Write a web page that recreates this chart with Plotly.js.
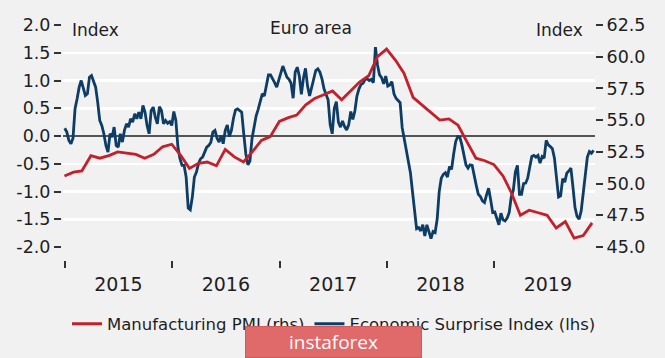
<!DOCTYPE html>
<html>
<head>
<meta charset="utf-8">
<script src="https://cdn.plot.ly/plotly-3.0.1.min.js"></script>
<style>
html,body{margin:0;padding:0;background:#f1f1f1;}
#chart{width:665px;height:358px;}
</style>
</head>
<body>
<div id="chart"></div>
<script>
// ---- Data ----
// Manufacturing PMI (rhs), monthly, plotted at month end
const pmiMonths = [
 '2014-12-31','2015-01-31','2015-02-28','2015-03-31','2015-04-30','2015-05-31','2015-06-30','2015-07-31','2015-08-31','2015-09-30','2015-10-31','2015-11-30','2015-12-31',
 '2016-01-31','2016-02-29','2016-03-31','2016-04-30','2016-05-31','2016-06-30','2016-07-31','2016-08-31','2016-09-30','2016-10-31','2016-11-30','2016-12-31',
 '2017-01-31','2017-02-28','2017-03-31','2017-04-30','2017-05-31','2017-06-30','2017-07-31','2017-08-31','2017-09-30','2017-10-31','2017-11-30','2017-12-31',
 '2018-01-31','2018-02-28','2018-03-31','2018-04-30','2018-05-31','2018-06-30','2018-07-31','2018-08-31','2018-09-30','2018-10-31','2018-11-30','2018-12-31',
 '2019-01-31','2019-02-28','2019-03-31','2019-04-30','2019-05-31','2019-06-30','2019-07-31','2019-08-31','2019-09-30','2019-10-31','2019-11-30'
];
const pmiValues = [
 50.6,50.9,51.0,52.2,52.0,52.2,52.5,52.4,52.3,52.0,52.3,52.9,53.1,
 52.2,51.2,51.6,51.7,51.4,52.7,52.1,51.7,52.5,53.4,53.7,54.9,
 55.2,55.4,56.2,56.7,57.0,57.3,56.6,57.3,58.0,58.5,60.0,60.6,
 59.7,58.7,56.8,56.2,55.6,55.0,55.1,54.6,53.3,52.0,51.8,51.5,
 50.6,49.3,47.5,47.9,47.7,47.5,46.5,47.0,45.7,45.9,46.9
];

// Economic Surprise Index (lhs), weekly readings starting 2015-01-01
const esiStart = '2015-01-01';
const esiValues = [
 0.14,0.07,-0.08,-0.14,-0.04,0.49,0.67,0.88,1.0,0.88,
 0.73,0.76,1.06,1.09,1.0,0.88,0.61,0.28,0.19,0.04,
 -0.17,-0.29,0.04,-0.02,0.16,-0.17,-0.2,0.04,-0.11,0.1,
 0.22,0.16,0.31,0.25,0.4,0.31,0.43,0.31,0.55,0.43,
 0.19,0.04,0.46,0.52,0.34,0.22,0.53,0.46,0.22,0.28,
 0.23,0.26,0.19,0.44,0.28,-0.2,-0.41,-0.53,-0.53,-0.74,
 -1.3,-1.33,-1.1,-0.74,-0.65,-0.5,-0.41,-0.38,-0.29,-0.2,
 -0.17,-0.11,0.07,0.1,-0.04,-0.11,0.01,-0.14,0.1,0.2,
 -0.01,0.1,0.32,0.47,0.49,0.46,0.43,0.04,-0.32,-0.52,
 -0.45,-0.05,0.2,0.36,0.48,0.65,0.76,0.72,0.95,1.1,
 1.1,1.04,0.96,0.88,1.02,1.15,1.26,1.16,1.06,1.02,
 0.95,0.68,1.15,1.24,1.08,0.75,1.04,1.22,0.9,0.72,
 0.88,1.05,1.18,1.21,1.15,1.03,0.85,0.75,0.65,0.2,
 0.04,0.5,0.62,0.25,0.16,0.27,0.17,0.11,0.2,0.44,
 0.3,0.45,0.72,0.85,0.93,0.95,1.02,1.03,1.0,1.02,
 0.96,1.6,1.28,1.1,1.05,0.94,1.08,0.9,0.92,0.98,
 0.76,0.68,0.64,0.6,0.15,-0.04,-0.26,-0.48,-0.66,-1.0,
 -1.4,-1.67,-1.65,-1.71,-1.6,-1.8,-1.6,-1.71,-1.85,-1.72,
 -1.74,-1.5,-1.0,-0.76,-0.69,-0.66,-0.74,-0.55,-0.6,-0.33,
 -0.1,-0.01,-0.02,-0.16,-0.37,-0.52,-0.58,-0.52,-0.53,-0.74,
 -0.89,-1.05,-1.09,-1.17,-1.2,-1.06,-0.94,-1.15,-1.38,-1.37,
 -1.47,-1.6,-1.39,-1.51,-1.53,-1.48,-1.38,-1.1,-0.98,-0.65,
 -0.53,-1.05,-1.05,-0.86,-0.85,-0.76,-0.56,-0.37,-0.35,-0.38,
 -0.35,-0.49,-0.37,-0.4,-0.08,-0.16,-0.19,-0.23,-0.4,-0.77,
 -1.1,-1.08,-0.77,-0.83,-0.67,-0.63,-0.58,-0.92,-1.29,-1.45,
 -1.5,-1.35,-1.05,-0.74,-0.38,-0.28,-0.31,-0.26
];

const leftTickVals = [-2,-1.5,-1,-0.5,0,0.5,1,1.5,2];
const leftTickText = ['-2.0','-1.5','-1.0','-0.5','0.0','0.5','1.0','1.5','2.0'];
const rightTickVals = [45,47.5,50,52.5,55,57.5,60,62.5];
const rightTickText = ['45.0','47.5','50.0','52.5','55.0','57.5','60.0','62.5'];

const pmiName = 'Manufacturing PMI (rhs)';
const esiName = 'Economic Surprise Index (lhs)';
const chartTitle = 'Euro area';
const axisUnit = 'Index';
const watermark = 'instaforex';

// weekly date index for the surprise series
const esiDates = esiValues.map((_, i) => {
  const d = new Date(esiStart + 'T00:00:00Z');
  d.setUTCDate(d.getUTCDate() + 7 * i);
  return d.toISOString().slice(0, 10);
});

// ---- Layout helpers (pixel -> paper) ----
const W = 665, H = 358;
const px = v => v / W;
const py = v => 1 - v / H;

const FONT = 'DejaVu Sans, sans-serif';
const TXT = '#1e1e1e';

const traces = [
  {
    x: esiDates, y: esiValues, name: esiName, type: 'scatter', mode: 'lines',
    yaxis: 'y', line: {color: '#0d3c65', width: 2.8}
  },
  {
    x: pmiMonths, y: pmiValues, name: pmiName, type: 'scatter', mode: 'lines',
    yaxis: 'y2', line: {color: '#c2202b', width: 2.8}
  }
];

const layout = {
  width: W, height: H,
  margin: {l: 0, r: 0, t: 0, b: 0},
  paper_bgcolor: '#f1f1f1',
  plot_bgcolor: '#f1f1f1',
  font: {family: FONT, color: TXT, size: 17},
  showlegend: true,
  legend: {
    orientation: 'h', x: px(334), xanchor: 'center', y: py(324), yanchor: 'middle',
    traceorder: 'reversed', font: {size: 16.5, color: TXT}, bgcolor: 'rgba(0,0,0,0)'
  },
  xaxis: {
    type: 'date', domain: [px(63), px(595)], anchor: 'free', position: py(260),
    range: ['2014-12-26', '2019-12-10'],
    tick0: '2015-01-01', dtick: 'M12', ticklabelmode: 'period', tickformat: '%Y',
    ticks: 'outside', ticklen: 7, tickwidth: 2, tickcolor: '#333',
    showgrid: false, zeroline: false, showline: false,
    tickfont: {size: 19, color: TXT}
  },
  yaxis: {
    domain: [py(247), py(25)], range: [-2, 2], anchor: 'free', position: px(61),
    tickmode: 'array', tickvals: leftTickVals, ticktext: leftTickText,
    ticks: 'outside', ticklen: 7, tickwidth: 2, tickcolor: '#333',
    showgrid: true, gridcolor: '#ffffff', gridwidth: 2.5,
    zeroline: true, zerolinecolor: '#555555', zerolinewidth: 1.5,
    showline: false, tickfont: {size: 17.5, color: TXT}
  },
  yaxis2: {
    overlaying: 'y', side: 'right', anchor: 'x', range: [45, 62.5],
    tickmode: 'array', tickvals: rightTickVals, ticktext: rightTickText,
    ticks: 'outside', ticklen: 7, tickwidth: 2, tickcolor: '#333',
    showgrid: false, zeroline: false, showline: false,
    tickfont: {size: 17.5, color: TXT}
  },
  annotations: [
    {text: axisUnit, xref: 'paper', yref: 'paper', x: px(70), y: py(30), xanchor: 'left', yanchor: 'middle', showarrow: false, font: {size: 17, color: TXT}},
    {text: chartTitle, xref: 'paper', yref: 'paper', x: px(311), y: py(28), xanchor: 'center', yanchor: 'middle', showarrow: false, font: {size: 17, color: TXT}},
    {text: axisUnit, xref: 'paper', yref: 'paper', x: px(585), y: py(30), xanchor: 'right', yanchor: 'middle', showarrow: false, font: {size: 17, color: TXT}},
    {text: watermark, xref: 'paper', yref: 'paper', x: px(333), y: py(342), xanchor: 'center', yanchor: 'middle', showarrow: false,
     font: {size: 19, color: '#ffffff', family: 'Open Sans, sans-serif'},
     bgcolor: '#e06a6a', bordercolor: '#cf5a5a', borderwidth: 1, width: 175, height: 30, borderpad: 0}
  ]
};

Plotly.newPlot('chart', traces, layout, {staticPlot: true, displayModeBar: false});
</script>
</body>
</html>
